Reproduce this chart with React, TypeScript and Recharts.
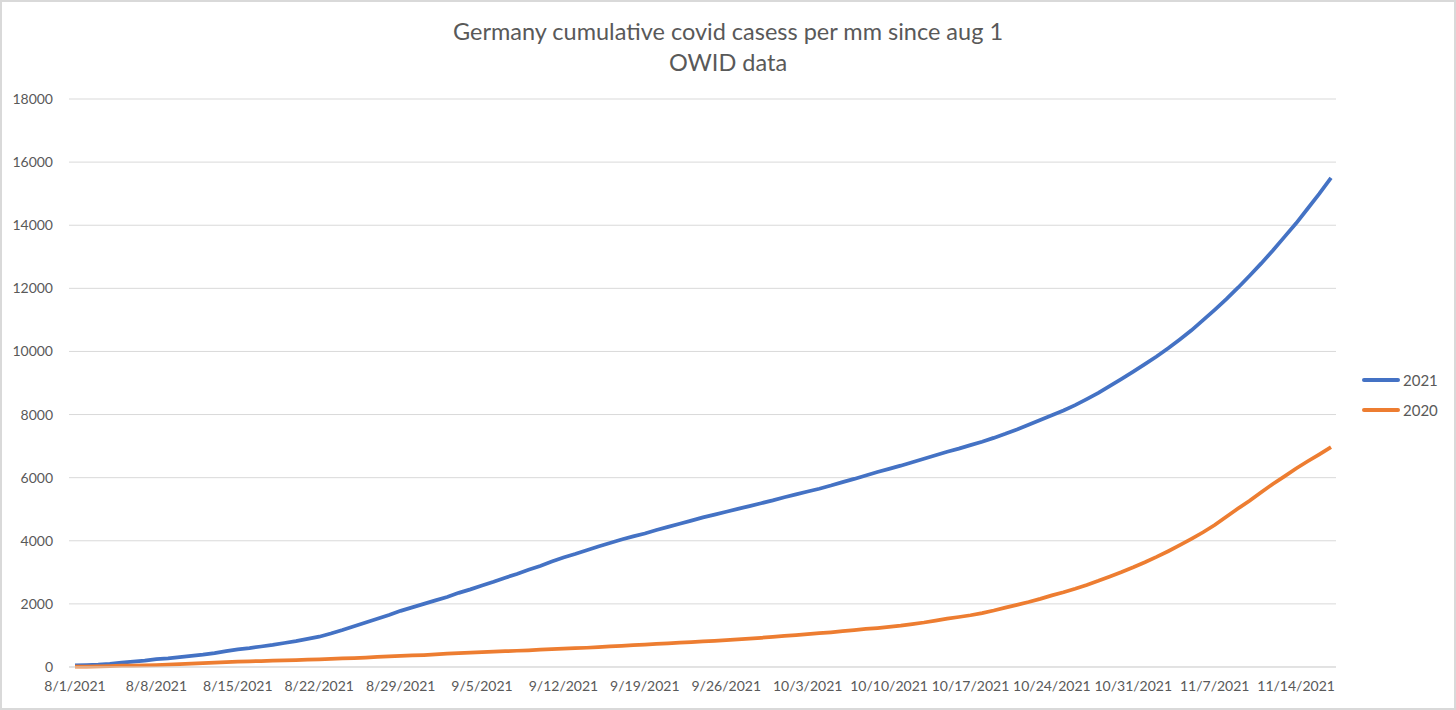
import { CartesianGrid, Legend, Line, LineChart, XAxis, YAxis } from "recharts";

const START_MONTH = 8;
const DAYS_IN_MONTH: Record<number, number> = { 8: 31, 9: 30, 10: 31, 11: 30 };

const cases2021 = [
  50, 60, 75, 100, 140, 170, 200,
  250, 275, 310, 350, 390, 440, 500,
  560, 600, 650, 700, 760, 820, 890,
  960, 1060, 1170, 1290, 1410, 1530, 1650,
  1780, 1890, 2000, 2110, 2220, 2350, 2460,
  2580, 2700, 2830, 2950, 3080, 3200, 3340,
  3470, 3580, 3700, 3820, 3930, 4040, 4140,
  4230, 4340, 4440, 4540, 4640, 4740, 4830,
  4920, 5010, 5100, 5190, 5280, 5380, 5470,
  5560, 5650, 5750, 5860, 5960, 6070, 6180,
  6280, 6380, 6490, 6600, 6710, 6820, 6920,
  7030, 7140, 7260, 7390, 7530, 7680, 7830,
  7980, 8130, 8300, 8490, 8690, 8910, 9130,
  9360, 9600, 9840, 10100, 10380, 10670, 10990,
  11320, 11660, 12020, 12400, 12790, 13200, 13630,
  14060, 14530, 15000, 15500,
];

const cases2020 = [
  10, 15, 20, 30, 40, 45, 50,
  60, 75, 90, 105, 120, 140, 155,
  170, 180, 190, 200, 210, 220, 230,
  240, 255, 270, 285, 300, 320, 335,
  350, 365, 380, 400, 420, 440, 455,
  470, 485, 500, 515, 530, 550, 565,
  580, 595, 610, 630, 650, 670, 690,
  710, 730, 750, 770, 790, 810, 830,
  850, 875, 900, 925, 955, 985, 1010,
  1040, 1070, 1100, 1135, 1170, 1205, 1235,
  1270, 1310, 1360, 1410, 1470, 1530, 1585,
  1640, 1710, 1790, 1880, 1970, 2060, 2160,
  2270, 2370, 2480, 2600, 2730, 2870, 3010,
  3160, 3320, 3490, 3670, 3860, 4060, 4270,
  4500, 4760, 5020, 5270, 5540, 5800, 6040,
  6290, 6520, 6740, 6970,
];

const xTicks = [
  "8/1/2021", "8/8/2021", "8/15/2021", "8/22/2021", "8/29/2021", "9/5/2021",
  "9/12/2021", "9/19/2021", "9/26/2021", "10/3/2021", "10/10/2021", "10/17/2021",
  "10/24/2021", "10/31/2021", "11/7/2021", "11/14/2021",
];

const yTicks = [0, 2000, 4000, 6000, 8000, 10000, 12000, 14000, 16000, 18000];

const legendOrder = ["2021", "2020"];

// day labels m/d/2021 starting at Aug 1
const dates: string[] = [];
{
  let m = START_MONTH;
  let d = 1;
  for (let i = 0; i < cases2021.length; i++) {
    dates.push(`${m}/${d}/2021`);
    d++;
    if (d > DAYS_IN_MONTH[m]) {
      d = 1;
      m++;
    }
  }
}

const data = dates.map((date, i) => ({
  date,
  y2021: cases2021[i],
  y2020: cases2020[i],
}));

const FONT = "Lato, 'Open Sans', sans-serif";
const TEXT = "#595959";

function renderLegend(props: any) {
  const items = [...(props.payload ?? [])].sort(
    (a: any, b: any) => legendOrder.indexOf(a.value) - legendOrder.indexOf(b.value)
  );
  return (
    <div style={{ fontFamily: FONT, fontSize: 15, color: TEXT }}>
      {items.map((item: any) => (
        <div key={item.value} style={{ display: "flex", alignItems: "center", height: 30 }}>
          <div style={{ width: 38, height: 4, borderRadius: 2, background: item.color, marginRight: 3 }} />
          <span>{item.value}</span>
        </div>
      ))}
    </div>
  );
}

export default function App() {
  return (
    <div
      style={{
        position: "absolute",
        left: 0,
        top: 0,
        width: 1456,
        height: 710,
        background: "#fff",
        border: "2px solid #d9d9d9",
        boxSizing: "border-box",
        overflow: "hidden",
      }}
    >
      <div
        style={{
          position: "absolute",
          left: -2,
          top: 14,
          width: 1456,
          textAlign: "center",
          fontFamily: FONT,
          fontSize: 23.5,
          lineHeight: "31px",
          color: TEXT,
        }}
      >
        <div>Germany cumulative covid casess per mm since aug 1</div>
        <div>OWID data</div>
      </div>
      <div style={{ position: "absolute", left: -2, top: -2 }}>
        <LineChart width={1456} height={710} data={data} margin={{ top: 99, right: 30, bottom: 13, left: 0 }}>
          <CartesianGrid vertical={false} stroke="#d9d9d9" strokeWidth={1} />
          <XAxis
            dataKey="date"
            ticks={xTicks}
            interval={0}
            height={30}
            padding={{ left: 6, right: 5 }}
            axisLine={{ stroke: "#d9d9d9" }}
            tickLine={false}
            tickSize={6}
            tickMargin={8}
            tick={{ fill: TEXT, fontSize: 14, fontFamily: FONT }}
          />
          <YAxis
            domain={[0, 18000]}
            ticks={yTicks}
            width={69}
            axisLine={false}
            tickLine={false}
            tickSize={6}
            tickMargin={10}
            tick={{ fill: TEXT, fontSize: 14, fontFamily: FONT }}
          />
          <Legend
            layout="vertical"
            align="right"
            verticalAlign="top"
            content={renderLegend}
            wrapperStyle={{ left: 1362, top: 365, width: 90 }}
          />
          <Line
            type="linear"
            dataKey="y2021"
            name="2021"
            stroke="#4472c4"
            strokeWidth={3.75}
            dot={false}
            isAnimationActive={false}
          />
          <Line
            type="linear"
            dataKey="y2020"
            name="2020"
            stroke="#ed7d31"
            strokeWidth={3.75}
            dot={false}
            isAnimationActive={false}
          />
        </LineChart>
      </div>
    </div>
  );
}
